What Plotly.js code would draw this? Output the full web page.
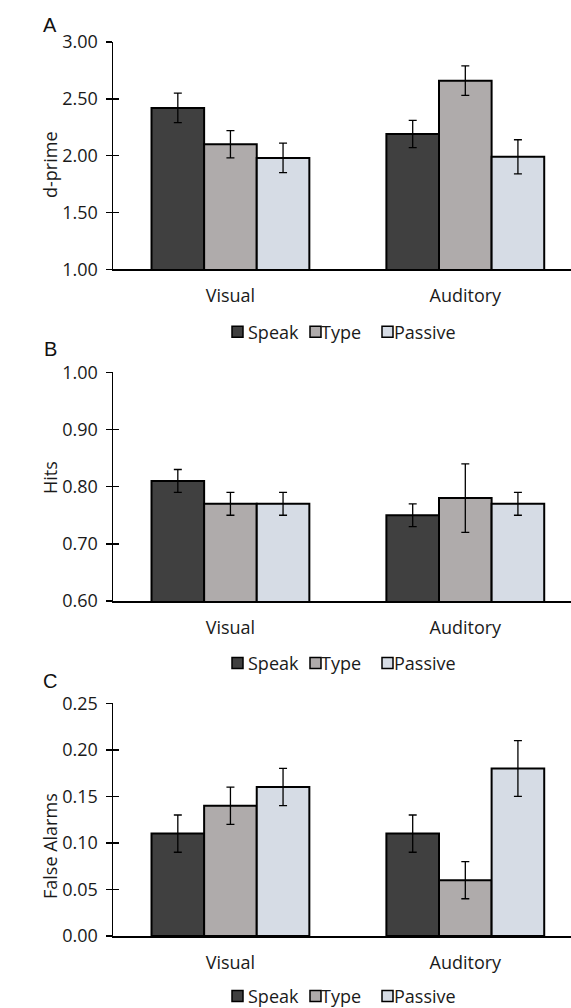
<!DOCTYPE html>
<html><head><meta charset="utf-8">
<script src="https://cdn.plot.ly/plotly-3.0.1.min.js"></script>
<style>html,body{margin:0;padding:0;background:#fff}</style>
</head><body><div id="chart" style="width:571px;height:1008px"></div>
<script>
// ---- data ----
const categories = ['Visual', 'Auditory'];
const seriesNames = ['Speak', 'Type', 'Passive'];
const seriesColors = ['#404040', '#AFABAB', '#D6DCE5'];

const dprimeSpeak = [2.42, 2.19];
const dprimeType = [2.10, 2.66];
const dprimePassive = [1.98, 1.99];
const dprimeSpeakErr = [0.13, 0.12];
const dprimeTypeErr = [0.12, 0.13];
const dprimePassiveErr = [0.13, 0.15];

const hitsSpeak = [0.81, 0.75];
const hitsType = [0.77, 0.78];
const hitsPassive = [0.77, 0.77];
const hitsSpeakErr = [0.02, 0.02];
const hitsTypeErr = [0.02, 0.06];
const hitsPassiveErr = [0.02, 0.02];

const faSpeak = [0.11, 0.11];
const faType = [0.14, 0.06];
const faPassive = [0.16, 0.18];
const faSpeakErr = [0.02, 0.02];
const faTypeErr = [0.02, 0.02];
const faPassiveErr = [0.02, 0.03];

const dprimeTicks = [1.00, 1.50, 2.00, 2.50, 3.00];
const hitsTicks = [0.60, 0.70, 0.80, 0.90, 1.00];
const faTicks = [0.00, 0.05, 0.10, 0.15, 0.20, 0.25];

const panelLetters = ['A', 'B', 'C'];
const yTitles = ['d-prime', 'Hits', 'False Alarms'];

// ---- build ----
const panels = [
  {vals: [dprimeSpeak, dprimeType, dprimePassive], errs: [dprimeSpeakErr, dprimeTypeErr, dprimePassiveErr], ticks: dprimeTicks, fmt: '.2f'},
  {vals: [hitsSpeak, hitsType, hitsPassive], errs: [hitsSpeakErr, hitsTypeErr, hitsPassiveErr], ticks: hitsTicks, fmt: '.2f'},
  {vals: [faSpeak, faType, faPassive], errs: [faSpeakErr, faTypeErr, faPassiveErr], ticks: faTicks, fmt: '.2f'}
];

const W = 571, H = 1008, L = 113;
const px2x = p => (p - L) / (W - L);
const py2y = p => 1 - p / H;

// pixel layout of each panel: top of axis, bottom of axis, legend y, letter y, y-title centre
const geom = [
  {top: 42, bot: 269.3, leg: 331.7, let: 25, tit: 165},
  {top: 372.3, bot: 601, leg: 663, let: 349, tit: 478},
  {top: 703.3, bot: 936, leg: 996, let: 681, tit: 846}
];

const FONT = 'Open Sans, Noto Sans, sans-serif';
const FS = 18;
const TXT = '#1a1a1a';
const data = [];
const layout = {
  width: W, height: H,
  margin: {l: L, r: 0, t: 0, b: 0},
  paper_bgcolor: '#fff', plot_bgcolor: '#fff',
  showlegend: false,
  barmode: 'group', bargap: 0.328, bargroupgap: 0,
  font: {family: FONT, size: FS, color: TXT},
  shapes: [], annotations: []
};

const sqX = [232, 310, 382];
const txtX = [247, 320, 393];

panels.forEach((p, i) => {
  const n = i + 1;
  const xa = n === 1 ? 'x' : 'x' + n;
  const ya = n === 1 ? 'y' : 'y' + n;
  const g = geom[i];
  const dom = [py2y(g.bot), py2y(g.top)];
  const rng = [p.ticks[0], p.ticks[p.ticks.length - 1]];

  seriesNames.forEach((name, s) => {
    data.push({
      type: 'bar', name: name, x: categories, y: p.vals[s],
      xaxis: xa, yaxis: ya,
      marker: {color: seriesColors[s], line: {color: '#000', width: 2}},
      error_y: {type: 'data', array: p.errs[s], visible: true, color: '#000', thickness: 1.3, width: 4},
      showlegend: false
    });
  });
  // overlay axis drawing the inner half of the crossing tick marks
  const oy = 'y' + (n + 3);
  data.push({type: 'bar', x: [], y: [], xaxis: xa, yaxis: oy, showlegend: false, hoverinfo: 'skip'});

  layout['xaxis' + (n === 1 ? '' : n)] = {
    domain: [0, 1], anchor: ya, type: 'category', range: [-0.5, 1.45],
    showgrid: false, zeroline: false, showline: true, linecolor: '#000', linewidth: 1.5,
    ticks: '', ticklabelstandoff: 10, tickfont: {family: FONT, size: FS, color: TXT},
    fixedrange: true
  };
  layout['yaxis' + (n === 1 ? '' : n)] = {
    domain: dom, anchor: xa, range: rng,
    tickvals: p.ticks, tickformat: p.fmt,
    showgrid: false, zeroline: false, showline: true, linecolor: '#000', linewidth: 1.5,
    ticks: 'outside', ticklen: 6, tickwidth: 1.5, tickcolor: '#000',
    ticklabelstandoff: 4,
    tickfont: {family: FONT, size: FS, color: TXT},
    automargin: false, fixedrange: true
  };
  layout['yaxis' + (n + 3)] = {
    overlaying: ya, anchor: xa, range: rng, domain: dom,
    tickvals: p.ticks, showticklabels: false, showgrid: false, zeroline: false, showline: false,
    ticks: 'inside', ticklen: 6, tickwidth: 1.5, tickcolor: '#000', fixedrange: true
  };

  // y-axis title (placed as in the reference)
  layout.annotations.push({
    text: yTitles[i], xref: 'paper', yref: 'paper', x: px2x(50), y: py2y(g.tit),
    xanchor: 'center', yanchor: 'middle', textangle: -90, showarrow: false,
    font: {family: FONT, size: FS, color: TXT}
  });

  // panel letter
  layout.annotations.push({
    text: panelLetters[i], xref: 'paper', yref: 'paper', x: px2x(50), y: py2y(g.let),
    xanchor: 'center', yanchor: 'middle', showarrow: false,
    font: {family: 'Liberation Sans, Arial, sans-serif', size: 20, color: '#111'}
  });

  // legend (drawn manually to match the reference's compact layout)
  seriesNames.forEach((name, s) => {
    layout.shapes.push({
      type: 'rect', xref: 'paper', yref: 'paper',
      x0: px2x(sqX[s]), x1: px2x(sqX[s] + 11),
      y0: py2y(g.leg + 5.5), y1: py2y(g.leg - 5.5),
      fillcolor: seriesColors[s], line: {color: '#000', width: 1.5}
    });
    layout.annotations.push({
      text: name, xref: 'paper', yref: 'paper', x: px2x(txtX[s]), y: py2y(g.leg),
      xanchor: 'left', yanchor: 'middle', showarrow: false, borderpad: 0,
      font: {family: FONT, size: FS, color: TXT}
    });
  });
});

Plotly.newPlot('chart', data, layout, {displayModeBar: false, staticPlot: true});
</script>
</body></html>
